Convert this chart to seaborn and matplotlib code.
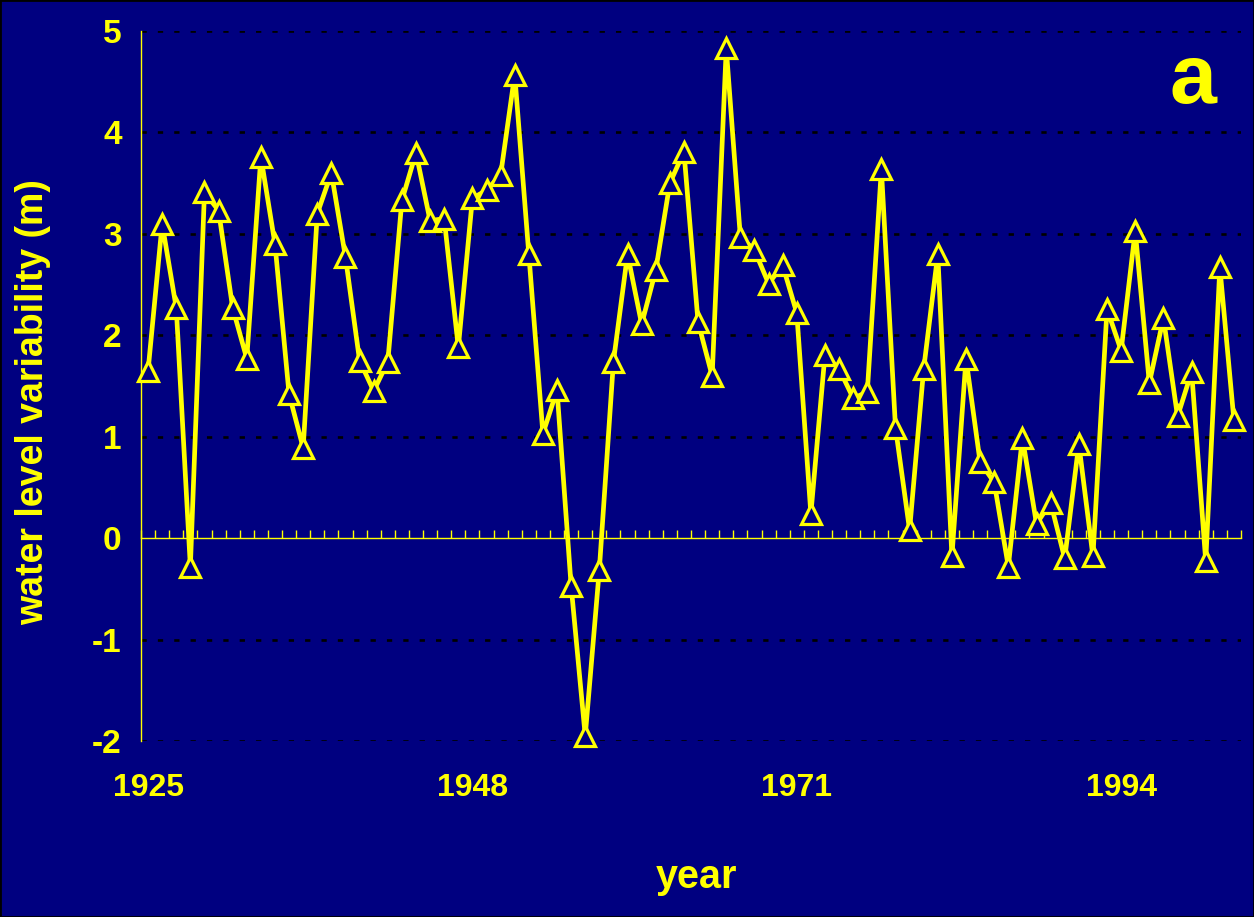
import matplotlib
matplotlib.use('Agg')
import matplotlib.pyplot as plt
from matplotlib import font_manager
from matplotlib.patches import Rectangle
import numpy as np
import pandas as pd
import seaborn as sns

# yearly water level variability (m)
years = list(range(1925, 2003))
level = [
    1.65, 3.10, 2.27, -0.28, 3.41, 3.23, 2.27, 1.77, 3.76, 2.90,
    1.42, 0.89, 3.20, 3.60, 2.77, 1.75, 1.45, 1.74, 3.33, 3.80,
    3.13, 3.15, 1.88, 3.35, 3.43, 3.58, 4.57, 2.80, 1.03, 1.46,
    -0.47, -1.95, -0.31, 1.74, 2.80, 2.11, 2.64, 3.50, 3.81, 2.13,
    1.60, 4.83, 2.97, 2.84, 2.51, 2.69, 2.22, 0.24, 1.81, 1.67,
    1.38, 1.44, 3.64, 1.09, 0.08, 1.67, 2.80, -0.18, 1.77, 0.75,
    0.55, -0.28, 0.99, 0.14, 0.35, -0.20, 0.93, -0.18, 2.26, 1.85,
    3.03, 1.53, 2.17, 1.20, 1.64, -0.23, 2.67, 1.16,
]
year_labels = [1925, 1948, 1971, 1994]
y_ticks = [-2, -1, 0, 1, 2, 3, 4, 5]
grid_levels = [-2, -1, 1, 2, 3, 4, 5]

NAVY = '#000080'
YELLOW = '#FFFF00'
W, H = 1254, 917

sns.set_style('white')
plt.rcParams['font.family'] = ['Liberation Sans', 'DejaVu Sans']
plt.rcParams['font.weight'] = 'bold'
plt.rcParams['axes.unicode_minus'] = False

installed = {f.name for f in font_manager.fontManager.ttflist}
if 'Liberation Sans Narrow' in installed:
    narrow, nscale = 'Liberation Sans Narrow', 1.0
else:
    narrow, nscale = 'Liberation Sans', 0.92

df = pd.DataFrame({'year': years, 'level': level})

fig = plt.figure(figsize=(W / 100, H / 100), dpi=100, facecolor=NAVY)
ax = fig.add_axes([141 / W, 1 - 741 / H, 1100 / W, 710 / H])
ax.set_facecolor(NAVY)

# dashed black gridlines (not at zero, the category axis sits there)
for g in grid_levels:
    ax.axhline(g, color='black', lw=1.9, ls=(0, (2.0, 4.2)), zorder=1)

sns.lineplot(data=df, x='year', y='level', ax=ax, color=YELLOW, lw=3.4,
             marker='^', markersize=15, markerfacecolor=NAVY,
             markeredgecolor=YELLOW, markeredgewidth=2.3, zorder=5,
             clip_on=False)

ax.set_xlim(1924.5, 2002.5)
ax.set_ylim(-2, 5)
ax.set_xlabel('')
ax.set_ylabel('')

for s in ['top', 'right', 'bottom']:
    ax.spines[s].set_visible(False)
ax.spines['left'].set_color(YELLOW)
ax.spines['left'].set_linewidth(1)

ax.set_yticks(y_ticks)
ax.tick_params(axis='y', direction='out', length=6, width=0.8, color=YELLOW,
               labelcolor=YELLOW, labelsize=24, pad=8)
ax.set_xticks(year_labels)
ax.tick_params(axis='x', length=0, labelcolor=YELLOW, labelsize=25 * nscale, pad=23)
for lab in ax.get_xticklabels():
    lab.set_fontfamily(narrow)

# category axis crossing at zero with upward ticks between years
zero_axis = ax.secondary_xaxis(2 / 7)
zero_axis.set_xticks(np.arange(1924.5, 2003, 1.0))
zero_axis.tick_params(axis='x', direction='in', length=6, width=1, color=YELLOW,
                      labelbottom=False, labeltop=False)
zero_axis.spines['bottom'].set_color(YELLOW)
zero_axis.spines['bottom'].set_linewidth(1)

fig.text(33 / W, 1 - 402 / H, 'water level variability (m)', rotation=90,
         ha='center', va='center', color=YELLOW, fontsize=27, fontweight='bold')
fig.text(696 / W, 1 - 888 / H, 'year', ha='center', va='baseline',
         color=YELLOW, fontsize=31 * nscale, fontweight='bold', family=narrow)
ax.text(0.956, 0.8986, 'a', transform=ax.transAxes, ha='center', va='baseline',
        color=YELLOW, fontsize=66 * nscale, fontweight='bold', family=narrow)

fig.patches.append(Rectangle((0, 0), 1, 1, transform=fig.transFigure,
                             fill=False, edgecolor='black', lw=2))

fig.savefig('out.png', dpi=100, facecolor=NAVY)
